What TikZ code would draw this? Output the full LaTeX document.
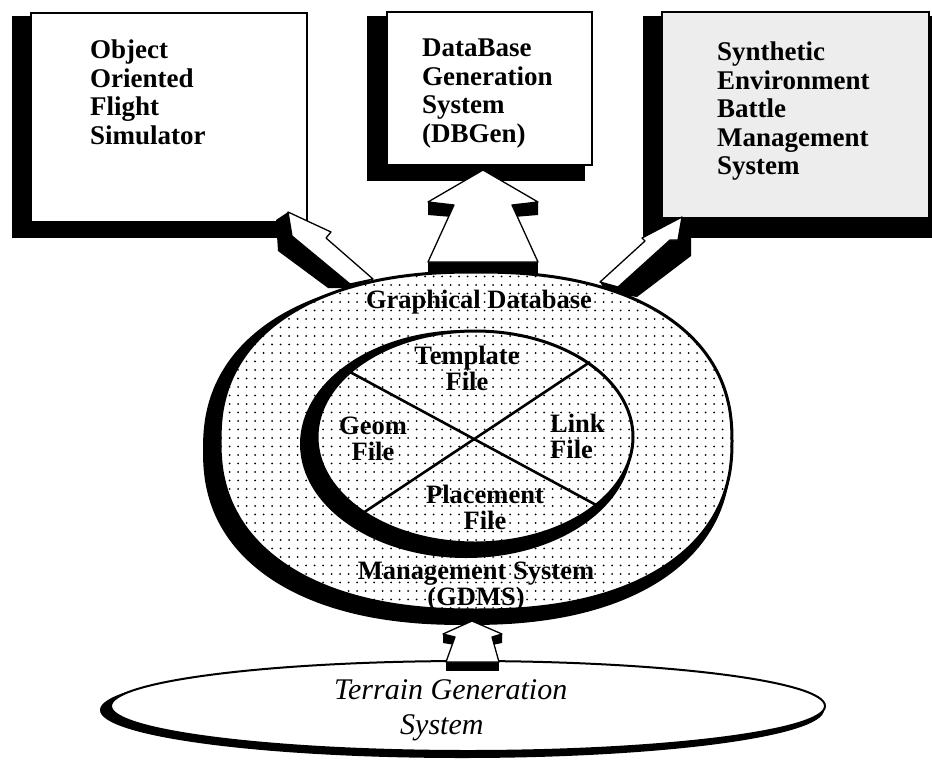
\documentclass[tikz,border=0pt]{standalone}
\usepackage{fontspec}
\setmainfont{Liberation Serif}
\usetikzlibrary{patterns.meta}

\begin{document}
\begin{tikzpicture}[x=1pt,y=-1pt,
  blk/.style={fill=black},
  paper/.style={fill=white, draw=black, line width=1.8pt},
  stipple/.style={pattern={Dots[distance=8.5pt,radius=1pt]}, pattern color=black},
  rim/.style={draw=black, line width=3pt},
  arrowface/.style={fill=white, draw=black, line width=1.3pt, line join=round},
  divider/.style={draw=black, line width=2.6pt},
  boxtxt/.style={font=\bfseries\fontsize{27}{28.5}\selectfont, inner sep=0pt, align=left, anchor=north west},
  dbtxt/.style={font=\bfseries\fontsize{26.5}{26}\selectfont, inner sep=0pt, align=center, anchor=north},
  terraintxt/.style={font=\itshape\fontsize{30}{35}\selectfont, inner sep=0pt, align=left, anchor=north west}
]
\useasboundingbox (0,0) rectangle (932,761);

% ---- the three client systems, raised boxes with a heavy left/bottom shadow
\fill[blk] (12,16) rectangle (295,238);
\draw[paper] (31,13) rectangle (307,222);
\fill[blk] (367,16) rectangle (585,181);
\draw[paper] (387,12) rectangle (592,165);
\fill[blk] (643,16) rectangle (932,238);
\draw[paper, fill=black!7] (662,12) rectangle (929,218);

% ---- block arrows from the database up to the clients
% left (to the flight simulator)
\fill[blk] (288,212) -- (276,220) -- (278,251) -- (328,288) -- (352,288) -- (373,279) -- cycle;
\draw[arrowface] (288,212) -- (331,232) -- (326,238) -- (373,279) -- (350,284) -- (292,236) -- cycle;
% middle (to DBGen)
\fill[blk] (428,202) -- (454,205) -- (452,217) -- (428,215) -- cycle;
\fill[blk] (538,202) -- (512,205) -- (514,217) -- (538,215) -- cycle;
\fill[blk] (428,262) rectangle (538,278);
\draw[arrowface] (483,170) -- (538,202) -- (512,205) -- (538,262) -- (428,262) -- (454,205) -- (428,202) -- cycle;
% right (to the battle management system)
\fill[blk] (682,217) -- (691,236) -- (691,256) -- (637,297) -- (606,292) -- (600,282) -- cycle;
\draw[arrowface] (682,217) -- (678,240) -- (670,240) -- (618,287) -- (600,282) -- (645,241) -- (642,238) -- cycle;

% ---- Graphical Database Management System (a slightly squared oval)
\fill[blk] plot[domain=0:360, samples=241, variable=\t]
  ({467+264*sign(cos(\t))*pow(abs(cos(\t))+0.00001,0.87)},
   {450+175*sign(sin(\t))*pow(abs(sin(\t))+0.00001,0.87)}) -- cycle;
\draw[rim, stipple, preaction={fill=white}] plot[domain=0:360, samples=241, variable=\t]
  ({476+256*sign(cos(\t))*pow(abs(cos(\t))+0.00001,0.87)},
   {441+169*sign(sin(\t))*pow(abs(sin(\t))+0.00001,0.87)}) -- cycle;

% inner file ring
\fill[blk] (466,444) ellipse [x radius=166, y radius=114];
\draw[rim, stipple, preaction={fill=white}] (475,437) ellipse [x radius=158, y radius=106];

\coordinate (ringNW) at (350,372);
\coordinate (ringSE) at (598,506);
\coordinate (ringNE) at (590,362);
\coordinate (ringSW) at (363,513);
\draw[divider] (ringNW) -- (ringSE);
\draw[divider] (ringNE) -- (ringSW);

% ---- Terrain Generation System
\fill[blk] (462,710) ellipse [x radius=362, y radius=48];
\draw[fill=white, draw=black, line width=2pt] (468,706) ellipse [x radius=357, y radius=45];

% block arrow from terrain generation up to the GDMS
\fill[blk] (443,634) -- (455,637) -- (455,645) -- (443,643) -- cycle;
\fill[blk] (502,634) -- (492,637) -- (492,645) -- (502,643) -- cycle;
\fill[blk] (446,662) rectangle (499,671);
\draw[arrowface] (472,621) -- (502,634) -- (492,637) -- (499,662) -- (446,662) -- (455,637) -- (443,634) -- cycle;

% ---- texts
\node[boxtxt] (oofs) at (90,40) {Object\\Oriented\\Flight\\Simulator};
\node[boxtxt] (dbgen) at (422,39) {DataBase\\Generation\\System\\(DBGen)};
\node[boxtxt] (sebms) at (717,42) {Synthetic\\Environment\\Battle\\Management\\System};

\node[dbtxt, anchor=base] (gdb) at (479,308) {Graphical Database};
\node[dbtxt] (tpl) at (467,346) {Template\\File};
\node[dbtxt] (geom) at (373,417) {Geom\\File};
\node[dbtxt, align=left, anchor=north west] (link) at (550,414) {Link\\File};
\node[dbtxt] (plc) at (485,485) {Placement\\File};
\node[dbtxt] (gdms) at (476,562) {Management System\\(GDMS)};

\node[terraintxt] (tgs) at (334,679) {Terrain Generation\\\hspace*{66pt}System};
\end{tikzpicture}
\end{document}
